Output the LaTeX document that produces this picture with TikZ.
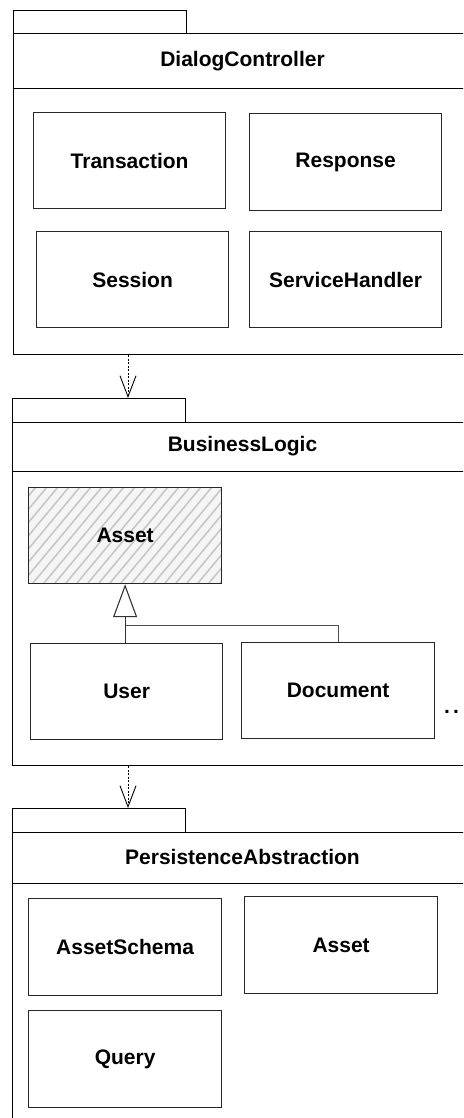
\documentclass[tikz,border=0pt]{standalone}
\usepackage{fontspec}
\setmainfont{Liberation Sans}
\usetikzlibrary{arrows.meta,calc}

\tikzset{
  lbl/.style={font=\bfseries\fontsize{21}{25}\selectfont, text=black},
  pkgline/.style={draw=black, line width=1pt},
  tabbox/.style={pkgline, rectangle, inner sep=0pt, anchor=north west},
  pkgbody/.style={pkgline, rectangle, inner sep=0pt, anchor=north west},
  cls/.style={draw=black!85, line width=1.2pt, rectangle, inner sep=0pt,
              minimum width=192pt, minimum height=96pt, lbl, anchor=north west},
  dep/.style={draw=black, line width=0.8pt, dash pattern=on 2pt off 1.5pt,
              -{Straight Barb[length=21pt,width=16pt,line width=0.9pt]}},
  gen/.style={draw=black!80, line width=1pt,
              -{Triangle[open,fill=white,length=33pt,width=24pt,line width=1.1pt]}},
  genline/.style={draw=black!70, line width=1pt},
}

\begin{document}
\begin{tikzpicture}[x=1pt,y=-1pt]
\useasboundingbox (0,0) rectangle (463,1118);
\clip (0,0) rectangle (463,1118);

% ---------- DialogController ----------
\node[tabbox, minimum width=173pt, minimum height=23pt] (dcTab) at (13,10) {};
\node[pkgbody, minimum width=459pt, minimum height=321pt] (dcBody) at (13,33) {};
\draw[pkgline] (13,89) -- (472,89);
\node[lbl] (dcTitle) at (242.5,61) {DialogController};

\node[cls] (transaction) at (33,112)  {Transaction};
\node[cls, minimum height=97pt] (response) at (249,113) {Response};
\node[cls] (session) at (36,231) {Session};
\node[cls] (service) at (249,231) {ServiceHandler};

% ---------- BusinessLogic ----------
\node[tabbox, minimum width=173pt, minimum height=24pt] (blTab) at (12,398) {};
\node[pkgbody, minimum width=460pt, minimum height=343pt] (blBody) at (12,422) {};
\draw[pkgline] (12,471) -- (472,471);
\node[lbl] (blTitle) at (242.5,446) {BusinessLogic};

% abstract Asset: hatched box
\path (28,487) coordinate (aNW) (221,583) coordinate (aSE);
\fill[black!4] (aNW) rectangle (aSE);
\begin{scope}
  \clip (aNW) rectangle (aSE);
  \foreach \x in {-110,-99,...,240}{
    \draw[black!22, line width=1.6pt] (\x,583) -- (\x+80,487);
  }
\end{scope}
\node[cls, fill=none, minimum width=193pt] (asset) at (28,487) {Asset};

\node[cls] (user) at (30,643) {User};
\node[cls, minimum width=193pt] (document) at (241,642) {Document};
\node[lbl, anchor=base] (more) at (451.5,713) {.\kern3.2pt.};

% generalisations
\coordinate (join) at ($(asset.south)+(0,41)$);
\draw[genline] (document.north) |- (join);
\draw[gen] (user.north -| asset.south) -- (asset.south);

% ---------- PersistenceAbstraction ----------
\node[tabbox, minimum width=173pt, minimum height=24pt] (paTab) at (12,808) {};
\node[pkgbody, minimum width=460pt, minimum height=330pt] (paBody) at (12,832) {};
\draw[pkgline] (12,883) -- (472,883);
\node[lbl] (paTitle) at (242.5,857) {PersistenceAbstraction};

\node[cls, minimum width=193pt, minimum height=97pt] (schema) at (28,898) {AssetSchema};
\node[cls, minimum width=193pt, minimum height=97pt] (passet) at (244,896) {Asset};
\node[cls, minimum width=193pt, minimum height=97pt] (query) at (28,1010) {Query};

% ---------- package dependencies ----------
\coordinate (d1) at (dcBody.south -| 128,0);
\draw[dep] (d1) -- (d1 |- blTab.north);
\coordinate (d2) at (blBody.south -| 128,0);
\draw[dep] (d2) -- (d2 |- paTab.north);
\end{tikzpicture}
\end{document}
